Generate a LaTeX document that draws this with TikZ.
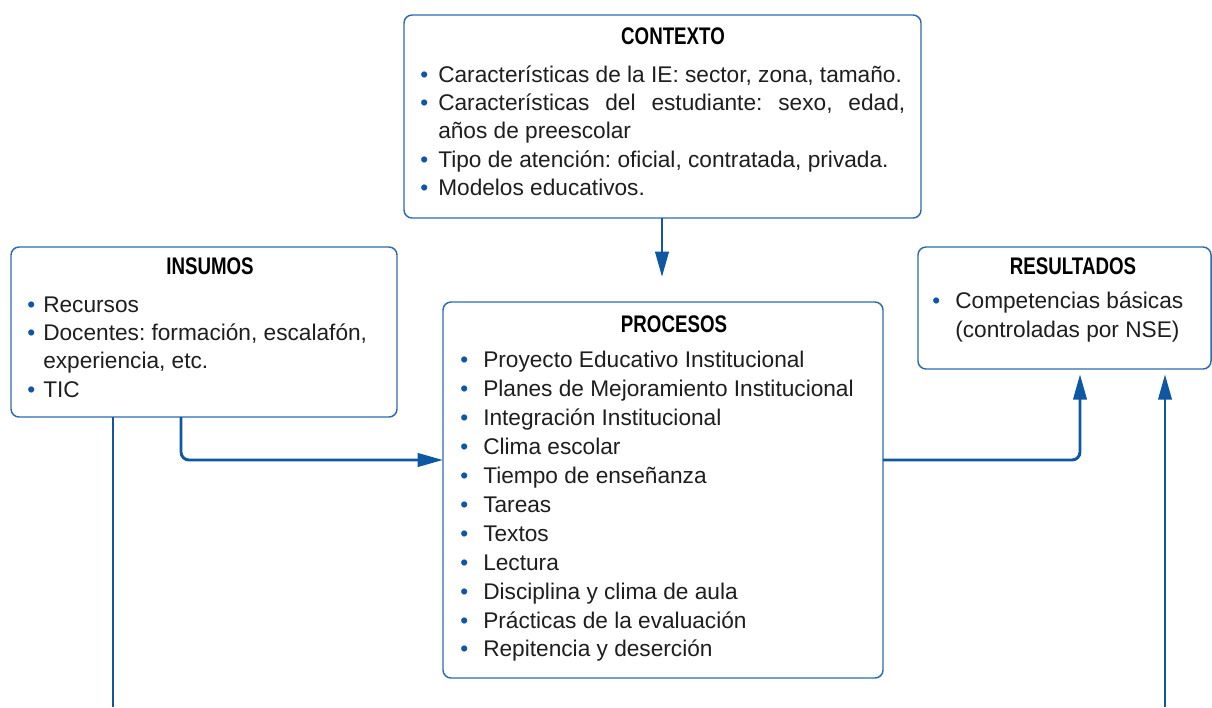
\documentclass[tikz,border=0pt]{standalone}
\usepackage{fontspec}
\setmainfont{Liberation Sans}
\newfontfamily\titlefont[FakeStretch=0.78]{Liberation Sans}
\usetikzlibrary{arrows.meta}
\definecolor{lineblue}{HTML}{0F57A2}
\definecolor{boxblue}{HTML}{2C6BB0}
\definecolor{txt}{HTML}{1E1E1E}
\tikzset{
  box/.style={draw=boxblue, line width=1.1pt, rounded corners=6pt, fill=white, inner sep=0pt, outer sep=0pt},
  ttl/.style={font=\titlefont\bfseries\fontsize{18}{21}\selectfont, text=black, anchor=base, inner sep=0pt},
  itm/.style={font=\fontsize{17}{21}\selectfont, text=txt, anchor=base west, inner sep=0pt},
  bul/.style={font=\fontsize{17}{21}\selectfont, text=lineblue, anchor=base west, inner sep=0pt},
  conn/.style={draw=lineblue, line width=2.2pt, rounded corners=6pt},
  arr/.style={conn, -{Triangle[length=19pt,width=10pt]}},
}
\frenchspacing
\begin{document}
\begin{tikzpicture}[x=0.75pt,y=-0.75pt]
\useasboundingbox (0,0) rectangle (1212,707);
% boxes
\node[box, minimum width=517*0.75pt, minimum height=203*0.75pt] (ctx) at (662.5,116.5) {};
\node[box, minimum width=386*0.75pt, minimum height=170*0.75pt] (ins) at (204,332) {};
\node[box, minimum width=293*0.75pt, minimum height=122*0.75pt] (res) at (1064.5,308) {};
\node[box, minimum width=440*0.75pt, minimum height=376*0.75pt] (proc) at (663,490) {};
% coordinates
\coordinate (ctxend) at (662,277);
\coordinate (insdown) at (181,460);
\coordinate (leftbot) at (113,707);
\coordinate (rightbot) at (1165,707);
\coordinate (procright) at (1080,460);
% connectors
\draw[arr] (ctx.south -| ctxend) -- (ctxend);
\draw[arr] (ins.south -| insdown) -- (insdown) -- (proc.west |- insdown);
\draw[conn] (ins.south -| leftbot) -- (leftbot);
\draw[arr, shorten >=4pt] (proc.east |- procright) -- (procright) -- (res.south -| procright);
\draw[arr, shorten >=4pt] (rightbot) -- (res.south -| rightbot);
% CONTEXTO
\node[ttl] (ctxt) at (673,44) {CONTEXTO};
\node[bul] (cb1) at (420,82) {•};
\node[itm] (c1) at (438,82) {Características de la IE: sector, zona, tamaño.};
\node[bul] (cb2) at (420,110) {•};
\node[itm] (c2) at (438,110) {\makebox[350.25pt][s]{Características del estudiante: sexo, edad,}};
\node[itm] (c3) at (438,138) {años de preescolar};
\node[bul] (cb4) at (420,167) {•};
\node[itm] (c4) at (438,167) {Tipo de atención: oficial, contratada, privada.};
\node[bul] (cb5) at (420,195) {•};
\node[itm] (c5) at (438,195) {Modelos educativos.};
% INSUMOS
\node[ttl] (inst) at (210,274) {INSUMOS};
\node[bul] (ib1) at (27,312) {•};
\node[itm] (i1) at (43,312) {Recursos};
\node[bul] (ib2) at (27,340) {•};
\node[itm] (i2) at (43,340) {Docentes: formación, escalafón,};
\node[itm] (i3) at (43,368) {experiencia, etc.};
\node[bul] (ib4) at (27,397) {•};
\node[itm] (i4) at (43,397) {TIC};
% RESULTADOS
\node[ttl] (rest) at (1073,274) {RESULTADOS};
\node[bul] (rb1) at (932,308) {•};
\node[itm] (r1) at (955,308) {Competencias básicas};
\node[itm] (r2) at (955,337) {(controladas por NSE)};
% PROCESOS
\node[ttl] (proct) at (674,332) {PROCESOS};
\foreach \t [count=\i] in {Proyecto Educativo Institucional,Planes de Mejoramiento Institucional,Integración Institucional,Clima escolar,Tiempo de enseñanza,Tareas,Textos,Lectura,Disciplina y clima de aula,Prácticas de la evaluación,Repitencia y deserción}{
  \node[bul] (pb\i) at (460,339+28.9*\i) {•};
  \node[itm] (p\i) at (483,339+28.9*\i) {\t};
}
\end{tikzpicture}
\end{document}
